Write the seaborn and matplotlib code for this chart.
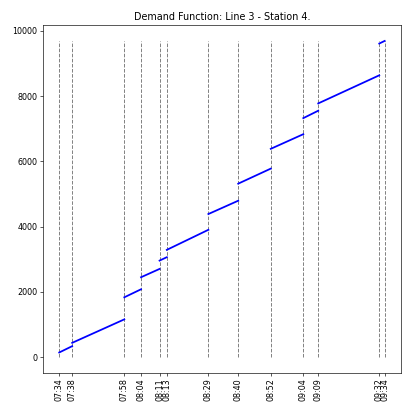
import pandas as pd
import seaborn as sns
import matplotlib.pyplot as plt

# stop times (HH:MM:SS) at line 3 - station 4
stop_times = ["07:34:00", "07:38:47", "07:58:00", "08:04:10", "08:11:00",
              "08:13:40", "08:29:00", "08:40:00", "08:52:00", "09:04:00",
              "09:09:30", "09:32:00", "09:34:00"]
# cumulative demand at the start / end of each interval between stops
seg_start = [144, 440, 1835, 2450, 2960, 3289, 4387, 5318, 6385, 7326, 7777, 9612]
seg_end = [338, 1159, 2081, 2705, 3064, 3904, 4795, 5779, 6834, 7553, 8638, 9692]

#%% convert times to minutes
def to_min(s):
    h, m, sec = [int(v) for v in s.split(":")]
    return h * 60 + m + sec / 60.0

t = [to_min(s) for s in stop_times]
labels = [s[:5] for s in stop_times]

rows = []
for i in range(len(seg_start)):
    rows.append({"seg": i, "time": t[i], "demand": seg_start[i]})
    rows.append({"seg": i, "time": t[i + 1], "demand": seg_end[i]})
df = pd.DataFrame(rows)

#%% plot
DPI = 57.6
fig, ax = plt.subplots(figsize=(405 / DPI, 405 / DPI), dpi=DPI)
fig.subplots_adjust(left=0.106, right=0.99, top=0.938, bottom=0.079)

ax.vlines(t, 0, max(seg_end), colors="gray", linestyles="dashed", linewidth=1.2)
sns.lineplot(data=df, x="time", y="demand", units="seg", estimator=None,
             color="blue", linewidth=2.2, legend=False, ax=ax)

ax.set_xticks(t)
ax.set_xticklabels(labels, rotation=90)
ax.set_xlabel("")
ax.set_ylabel("")
ax.set_title("Demand Function: Line 3 - Station 4.")

fig.savefig("out.png", dpi=DPI)
